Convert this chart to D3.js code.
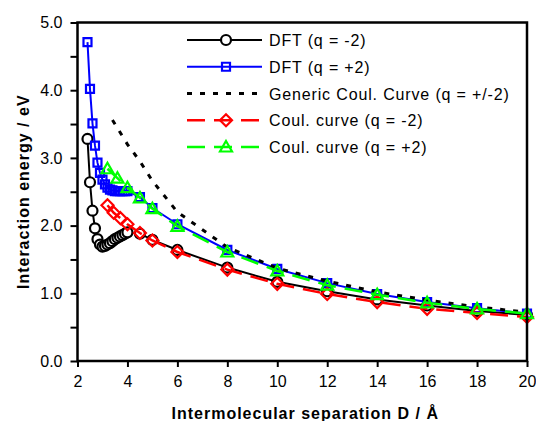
<!DOCTYPE html>
<html><head><meta charset="utf-8">
<script src="https://cdn.jsdelivr.net/npm/d3@7"></script>
<style>
body{margin:0;background:#fff;}
svg{display:block;font-family:"Liberation Sans",Arial,sans-serif;}
</style></head>
<body><svg id="c" width="536" height="421"></svg>
<script>
// ---- data ----
const dftX = [2.4,2.5,2.6,2.7,2.8,2.9,3.0,3.1,3.2,3.3,3.4,3.5,3.6,3.7,3.8,3.9,4.0,4.5,5,6,8,10,12,14,16,18,20];
const dftNegY = [3.28,2.64,2.22,1.96,1.80,1.72,1.69,1.70,1.72,1.74,1.77,1.80,1.82,1.84,1.86,1.88,1.90,1.88,1.79,1.64,1.38,1.17,1.03,0.91,0.82,0.74,0.68];
const dftPosY = [4.71,4.02,3.51,3.18,2.93,2.78,2.68,2.61,2.56,2.53,2.52,2.51,2.51,2.51,2.51,2.51,2.51,2.42,2.26,2.02,1.64,1.36,1.15,0.99,0.87,0.78,0.70];
const genericX = [3.4,4,4.5,5,6,8,10,12,14,16,18,20];
const genericY = [3.56,3.20,2.95,2.66,2.20,1.68,1.37,1.18,1.02,0.90,0.80,0.72];
const coulNegX = [3.2,3.45,3.72,4.0,4.5,5,6,8,10,12,14,16,18,20];
const coulNegY = [2.30,2.19,2.11,2.02,1.89,1.78,1.61,1.35,1.14,0.99,0.87,0.77,0.71,0.65];
const coulPosX = [3.2,3.6,4.0,4.5,5,6,8,10,12,14,16,18,20];
const coulPosY = [2.84,2.70,2.56,2.41,2.25,1.99,1.61,1.33,1.12,0.98,0.86,0.77,0.70];
const xTicks = [2,4,6,8,10,12,14,16,18,20];
const yTicks = [0,1,2,3,4,5];
const yMinor = [0.5,1.5,2.5,3.5,4.5];
const legendLabels = ["DFT (q = -2)","DFT (q = +2)","Generic Coul. Curve (q = +/-2)","Coul. curve (q = -2)","Coul. curve (q = +2)"];

// ---- chart ----
const svg = d3.select("#c");
const x = d3.scaleLinear().domain([2,20]).range([77.5,527]);
const y = d3.scaleLinear().domain([0,5]).range([361,22.5]);

const series = [
  {xs:dftX, ys:dftNegY, color:"#000000", dash:null, width:2, marker:"circle", fill:"#fff"},
  {xs:dftX, ys:dftPosY, color:"#0000ff", dash:null, width:2, marker:"square", fill:"none"},
  {xs:genericX, ys:genericY, color:"#000000", dash:"5,8", width:3, marker:null},
  {xs:coulNegX, ys:coulNegY, color:"#ff0000", dash:"18,9", width:2.5, marker:"diamond", fill:"none"},
  {xs:coulPosX, ys:coulPosY, color:"#00ff00", dash:"18,9", width:2.5, marker:"triangle", fill:"none"}
];

function markerPath(type){
  if(type==="circle") return d3.symbol(d3.symbolCircle, Math.PI*25)();
  if(type==="square") return "M-4,-4H4V4H-4Z";
  if(type==="diamond") return "M0,-6L6,0L0,6L-6,0Z";
  if(type==="triangle") return "M0,-6L6,4.5H-6Z";
}

const line = d3.line().x(d=>x(d[0])).y(d=>y(d[1]));

series.forEach(s=>{
  const pts = s.xs.map((v,i)=>[v,s.ys[i]]);
  svg.append("path").attr("d",line(pts)).attr("fill","none")
    .attr("stroke",s.color).attr("stroke-width",s.width)
    .attr("stroke-dasharray",s.dash);
  if(s.marker){
    svg.append("g").selectAll("path").data(pts).join("path")
      .attr("d",markerPath(s.marker))
      .attr("transform",d=>`translate(${x(d[0])},${y(d[1])})`)
      .attr("fill",s.fill).attr("stroke",s.color).attr("stroke-width",2.2);
  }
});

// axes
const xAxis = d3.axisBottom(x).tickValues(xTicks).tickSize(6).tickPadding(9).tickFormat(d3.format("d"));
const gx = svg.append("g").attr("transform",`translate(0,${y(0)})`).call(xAxis);
gx.select(".domain").remove();
gx.selectAll(".tick line").attr("stroke","#000").attr("stroke-width",2);
gx.selectAll("text").attr("font-size",16).attr("fill","#000").attr("font-family","Liberation Sans, Arial, sans-serif");

const yAxis = d3.axisLeft(y).tickValues(yTicks).tickSize(7).tickPadding(8).tickFormat(d3.format(".1f"));
const gy = svg.append("g").attr("transform",`translate(${x(2)},0)`).call(yAxis);
gy.select(".domain").remove();
gy.selectAll(".tick line").attr("stroke","#000").attr("stroke-width",2);
gy.selectAll("text").attr("font-size",16).attr("fill","#000").attr("font-family","Liberation Sans, Arial, sans-serif");

const gym = svg.append("g").attr("transform",`translate(${x(2)},0)`)
  .call(d3.axisLeft(y).tickValues(yMinor).tickSize(7).tickFormat(""));
gym.select(".domain").remove();
gym.selectAll(".tick line").attr("stroke","#000").attr("stroke-width",2);

// frame
svg.append("rect").attr("x",x(2)).attr("y",y(5)).attr("width",x(20)-x(2)).attr("height",y(0)-y(5))
  .attr("fill","none").attr("stroke","#000").attr("stroke-width",2.5);

// titles
svg.append("text").attr("x",(x(2)+x(20))/2+3).attr("y",419).attr("text-anchor","middle")
  .attr("font-size",16).attr("font-weight","bold").attr("letter-spacing","1px")
  .text("Intermolecular separation D / Å");
svg.append("text").attr("transform",`translate(29,${(y(0)+y(5))/2}) rotate(-90)`).attr("text-anchor","middle")
  .attr("font-size",16).attr("font-weight","bold").attr("letter-spacing","1px")
  .text("Interaction energy / eV");

// legend
const legRowY = d3.scaleLinear().domain([0,4]).range([40,147]);
const leg = svg.append("g");
series.forEach((s,i)=>{
  const ly = legRowY(i);
  leg.append("line").attr("x1",187).attr("x2",262).attr("y1",ly).attr("y2",ly)
    .attr("stroke",s.color).attr("stroke-width",s.width).attr("stroke-dasharray",s.dash);
  if(s.marker){
    leg.append("path").attr("d",markerPath(s.marker)).attr("transform",`translate(226,${ly})`)
      .attr("fill",s.fill).attr("stroke",s.color).attr("stroke-width",2.2);
  }
  leg.append("text").attr("x",269).attr("y",ly+6).attr("font-size",16).attr("letter-spacing","0.85px")
    .text(legendLabels[i]);
});
</script></body></html>
